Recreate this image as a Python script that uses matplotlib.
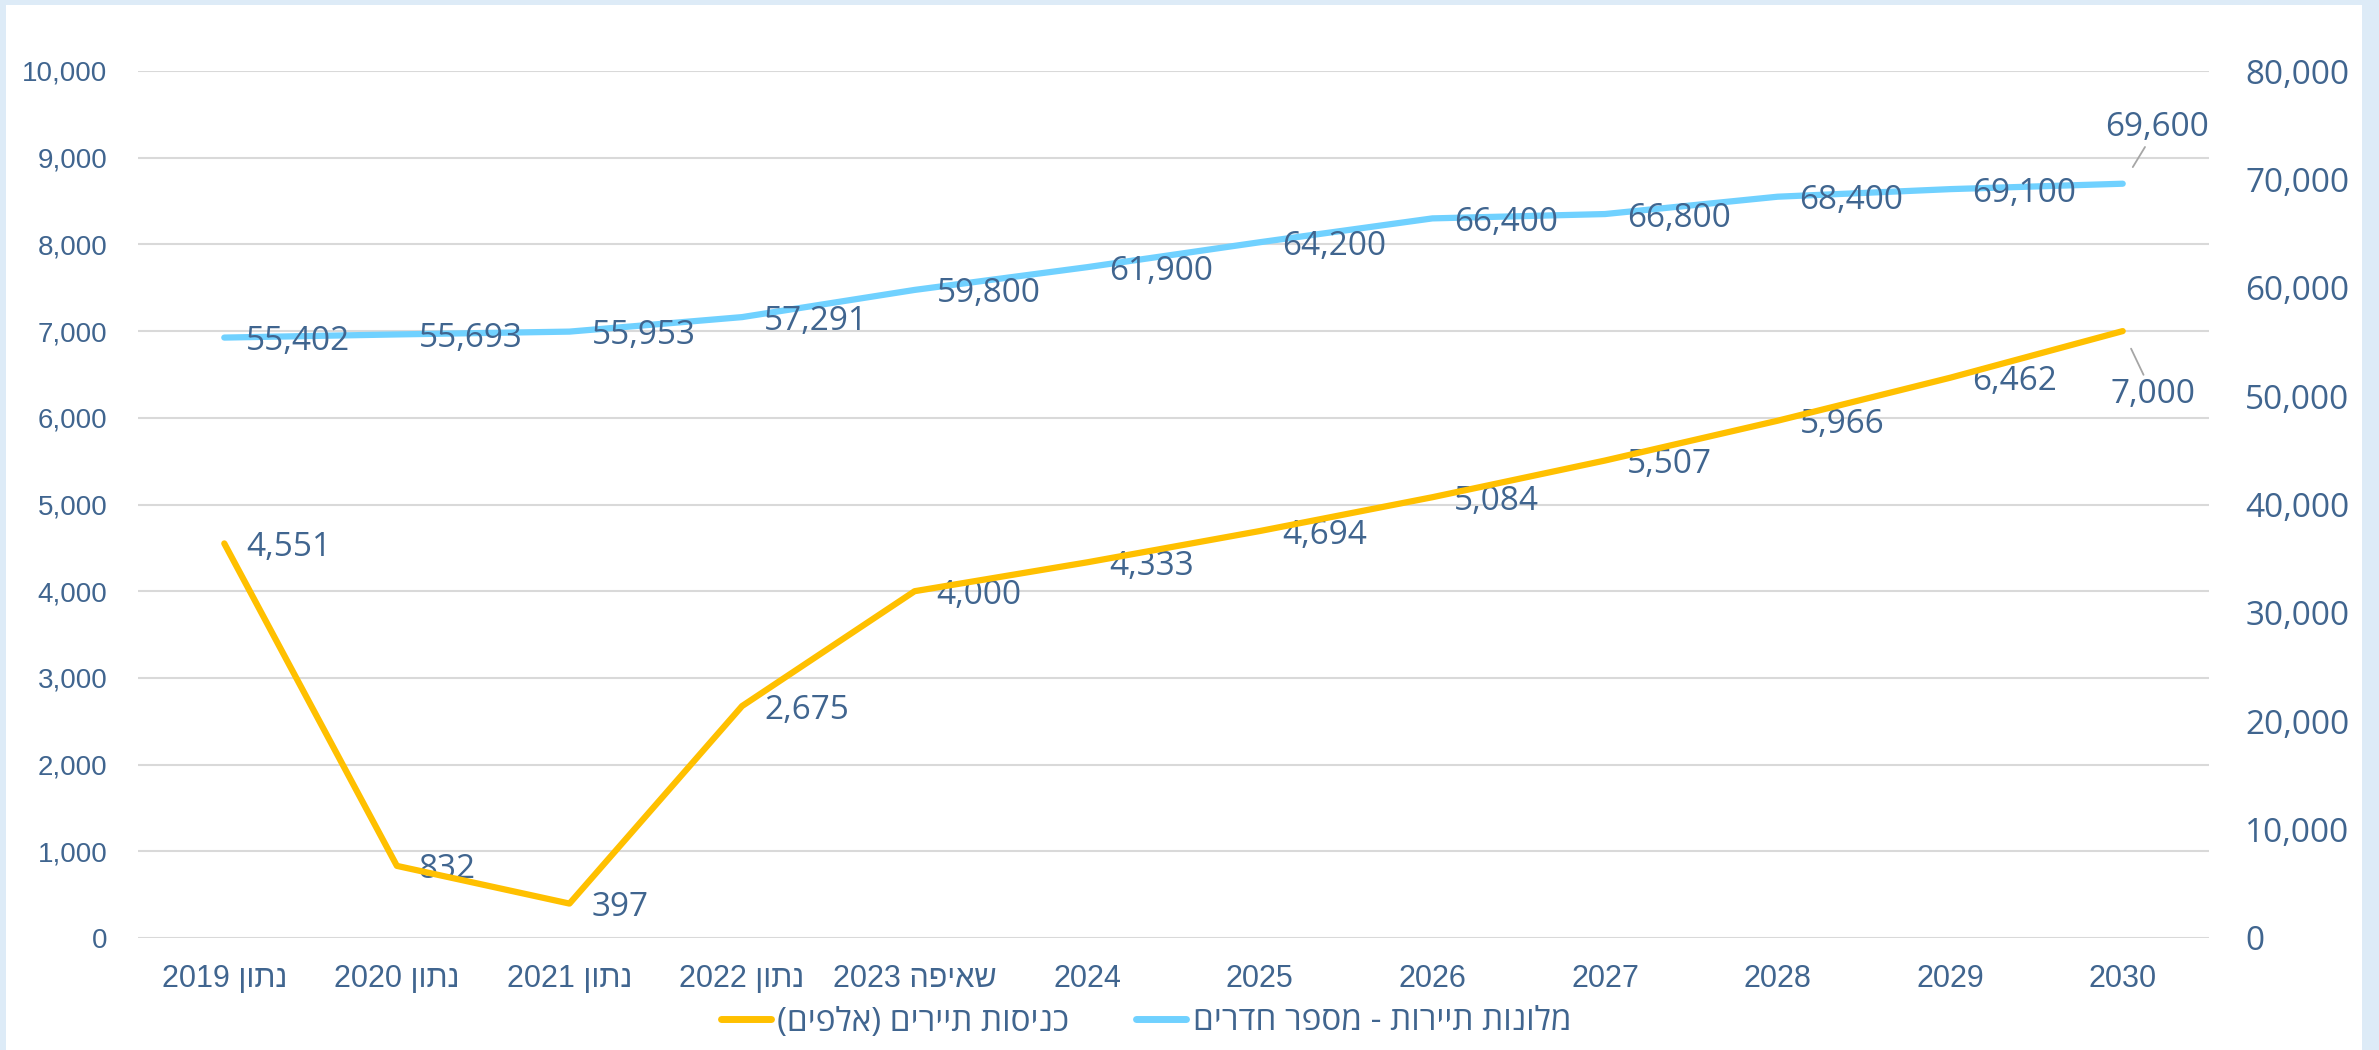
import matplotlib
matplotlib.use("Agg")
import matplotlib.pyplot as plt
from matplotlib.patches import Rectangle
from matplotlib.lines import Line2D
from matplotlib.ticker import FuncFormatter, MultipleLocator

# data
categories = ["נתון 2019", "נתון 2020", "נתון 2021", "נתון 2022", "שאיפה 2023",
              "2024", "2025", "2026", "2027", "2028", "2029", "2030"]
tourists = [4551, 832, 397, 2675, 4000, 4333, 4694, 5084, 5507, 5966, 6462, 7000]
rooms = [55402, 55693, 55953, 57291, 59800, 61900, 64200, 66400, 66800, 68400, 69100, 69600]
tourists_name = "כניסות תיירים (אלפים)"
rooms_name = "מלונות תיירות - מספר חדרים"

TXT = "#40658F"
YELLOW = "#FFC000"
BLUE = "#70D1FF"
GRID = "#D9D9D9"


def rtl(s):
    # matplotlib has no bidi, so put hebrew words in visual order
    out = []
    for t in reversed(s.split(" ")):
        if any("\u0590" <= c <= "\u05ff" for c in t):
            t = t[::-1].translate(str.maketrans("()", ")("))
        out.append(t)
    return " ".join(out)


fmt = FuncFormatter(lambda v, p: f"{int(v):,}")

fig = plt.figure(figsize=(23.79, 10.5), dpi=100)
fig.patch.set_facecolor("#DDEBF7")
fig.patches.append(Rectangle((6 / 2379, 0), (2362 - 6) / 2379, 1 - 5 / 1050,
                             transform=fig.transFigure, facecolor="white",
                             edgecolor="none", zorder=-10))

ax = fig.add_axes([138 / 2379, 1 - 938 / 1050, (2209 - 138) / 2379, (938 - 71) / 1050])
ax.set_facecolor("none")
ax2 = ax.twinx()

x = list(range(len(categories)))
ax.set_xlim(-0.5, len(categories) - 0.5)
ax.set_ylim(0, 10000)
ax2.set_ylim(0, 80000)
ax.yaxis.set_major_locator(MultipleLocator(1000))
ax2.yaxis.set_major_locator(MultipleLocator(10000))
ax.yaxis.set_major_formatter(fmt)
ax2.yaxis.set_major_formatter(fmt)
ax.grid(axis="y", color=GRID, lw=1.5)
ax.set_axisbelow(True)
for a in (ax, ax2):
    for sp in a.spines.values():
        sp.set_visible(False)

ax.set_xticks(x)
ax.set_xticklabels([rtl(c) for c in categories], family=["Liberation Sans", "DejaVu Sans"],
                   fontsize=22, color=TXT)
ax.tick_params(axis="x", length=0, pad=19)
ax.tick_params(axis="y", length=0, pad=22, labelsize=20, labelcolor=TXT)
ax2.tick_params(axis="y", length=0, pad=26, labelsize=24, labelcolor=TXT)
for lab in ax.get_yticklabels():
    lab.set_family(["Liberation Sans", "DejaVu Sans"])
for lab in ax2.get_yticklabels():
    lab.set_family(["Open Sans", "DejaVu Sans"])

ax2.plot(x, rooms, color=BLUE, lw=4.5, solid_capstyle="round", zorder=2)
ax2.plot(x, tourists, color=YELLOW, lw=4.5, solid_capstyle="round", zorder=2,
         transform=ax.transData)

lab_kw = dict(fontsize=24, color=TXT, family=["Open Sans", "DejaVu Sans"],
              textcoords="offset pixels", va="center", zorder=3)

for i, v in enumerate(tourists[:-1]):
    ax.annotate(f"{v:,}", (x[i], v), xytext=(22, -4), ha="left", **lab_kw)
ax.annotate(f"{tourists[-1]:,}", (x[-1], tourists[-1]), xytext=(30, -63), ha="center",
            arrowprops=dict(arrowstyle="-", color="#A6A6A6", lw=1.3, shrinkA=0, shrinkB=14),
            **lab_kw)

for i, v in enumerate(rooms[:-1]):
    ax2.annotate(f"{v:,}", (x[i], v), xytext=(22, -4), ha="left", **lab_kw)
ax2.annotate(f"{rooms[-1]:,}", (x[-1], rooms[-1]), xytext=(34, 56), ha="center",
             arrowprops=dict(arrowstyle="-", color="#A6A6A6", lw=1.3, shrinkA=0, shrinkB=14),
             **lab_kw)

handles = [Line2D([], [], color=YELLOW, lw=5, solid_capstyle="round"),
           Line2D([], [], color=BLUE, lw=5, solid_capstyle="round")]
leg = fig.legend(handles, [rtl(tourists_name), rtl(rooms_name)], loc="center",
                 bbox_to_anchor=(1146 / 2379, 1 - 1022 / 1050), ncol=2, frameon=False,
                 handlelength=1.5, handletextpad=0.2, columnspacing=2.0,
                 prop=dict(family=["Open Sans", "DejaVu Sans"], size=24))
for t in leg.get_texts():
    t.set_color(TXT)

fig.savefig("out.png", dpi=100, facecolor=fig.get_facecolor())
